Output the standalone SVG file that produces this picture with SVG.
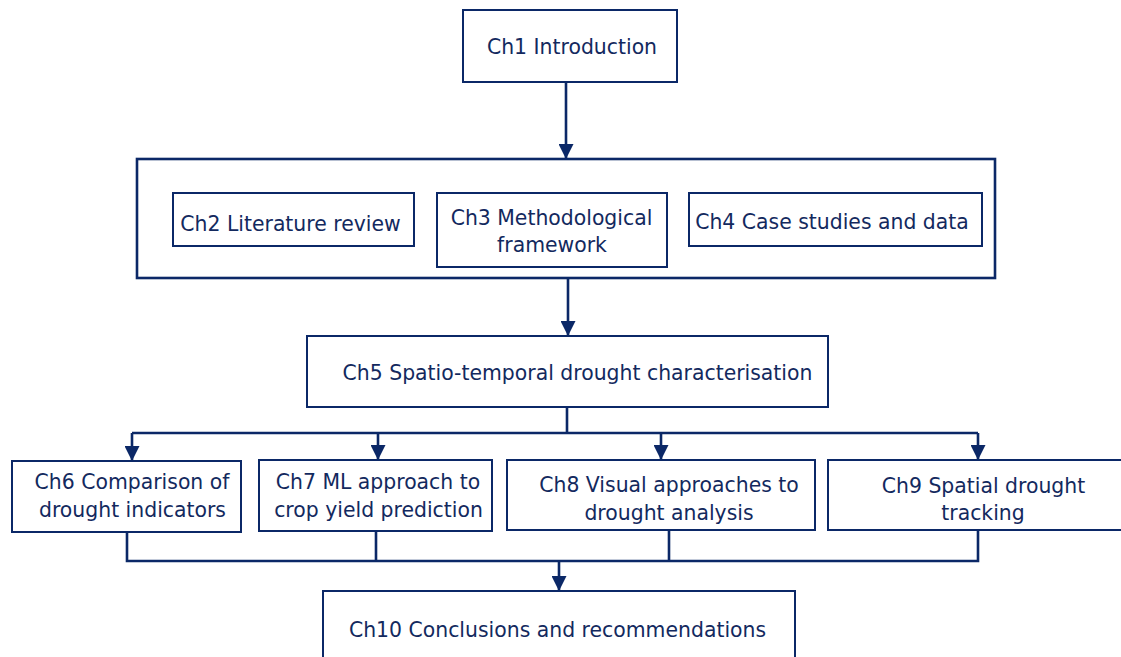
<svg xmlns="http://www.w3.org/2000/svg" width="1121" height="657" viewBox="0 0 1121 657">
<style>
  .box { fill: #ffffff; stroke: #0b2867; stroke-width: 2; }
  .outer { fill: #ffffff; stroke: #0b2867; stroke-width: 2.6; }
  .lbl { font-family: "DejaVu Sans", Verdana, sans-serif; font-size: 20.4px; fill: #13295e; text-anchor: middle; }
  .wire { fill: none; stroke: #0b2867; stroke-width: 2.6; }
</style>
<defs>
  <marker id="arr" viewBox="0 0 15 15" refX="14" refY="7.5" markerWidth="15" markerHeight="15" markerUnits="userSpaceOnUse" orient="auto">
    <path d="M0,0 L15,7.5 L0,15 Z" fill="#0b2867"/>
  </marker>
</defs>
<rect width="1121" height="657" fill="#ffffff"/>

<g id="container">
  <rect class="outer" x="137" y="159" width="858" height="119"/>
</g>

<g id="ch1">
  <rect class="box" x="463" y="10" width="214" height="72"/>
  <text class="lbl" x="572" y="54">Ch1 Introduction</text>
</g>
<g id="ch2">
  <rect class="box" x="173" y="193" width="241" height="53"/>
  <text class="lbl" x="290.5" y="231">Ch2 Literature review</text>
</g>
<g id="ch3">
  <rect class="box" x="437" y="193" width="230" height="74"/>
  <text class="lbl" x="551.5" y="225">Ch3 Methodological</text>
  <text class="lbl" x="552" y="252">framework</text>
</g>
<g id="ch4">
  <rect class="box" x="689" y="193" width="293" height="53"/>
  <text class="lbl" x="832" y="229">Ch4 Case studies and data</text>
</g>
<g id="ch5">
  <rect class="box" x="307" y="336" width="521" height="71"/>
  <text class="lbl" x="577.5" y="380">Ch5 Spatio-temporal drought characterisation</text>
</g>
<g id="ch6">
  <rect class="box" x="12" y="461" width="229" height="71"/>
  <text class="lbl" x="132" y="489">Ch6 Comparison of</text>
  <text class="lbl" x="132.5" y="517">drought indicators</text>
</g>
<g id="ch7">
  <rect class="box" x="259" y="460" width="233" height="71"/>
  <text class="lbl" x="378" y="489">Ch7 ML approach to</text>
  <text class="lbl" x="378.5" y="517">crop yield prediction</text>
</g>
<g id="ch8">
  <rect class="box" x="507" y="460" width="308" height="70"/>
  <text class="lbl" x="669" y="492">Ch8 Visual approaches to</text>
  <text class="lbl" x="669" y="520">drought analysis</text>
</g>
<g id="ch9">
  <rect class="box" x="828" y="460" width="300" height="70"/>
  <text class="lbl" x="983.5" y="493">Ch9 Spatial drought</text>
  <text class="lbl" x="983" y="520">tracking</text>
</g>
<g id="ch10">
  <rect class="box" x="323" y="591" width="472" height="80"/>
  <text class="lbl" x="557.5" y="637">Ch10 Conclusions and recommendations</text>
</g>

<g id="connectors">
  <path class="wire" d="M566,82 V158" marker-end="url(#arr)"/>
  <path class="wire" d="M568,278 V335" marker-end="url(#arr)"/>
  <path class="wire" d="M567,407 V433 M132,433 H978"/>
  <path class="wire" d="M132,433 V460" marker-end="url(#arr)"/>
  <path class="wire" d="M378,433 V459" marker-end="url(#arr)"/>
  <path class="wire" d="M661,433 V459" marker-end="url(#arr)"/>
  <path class="wire" d="M978,433 V459" marker-end="url(#arr)"/>
  <path class="wire" d="M127,532 V561 H978 V530 M376,531 V561 M669,530 V561"/>
  <path class="wire" d="M559,561 V590" marker-end="url(#arr)"/>
</g>
</svg>
